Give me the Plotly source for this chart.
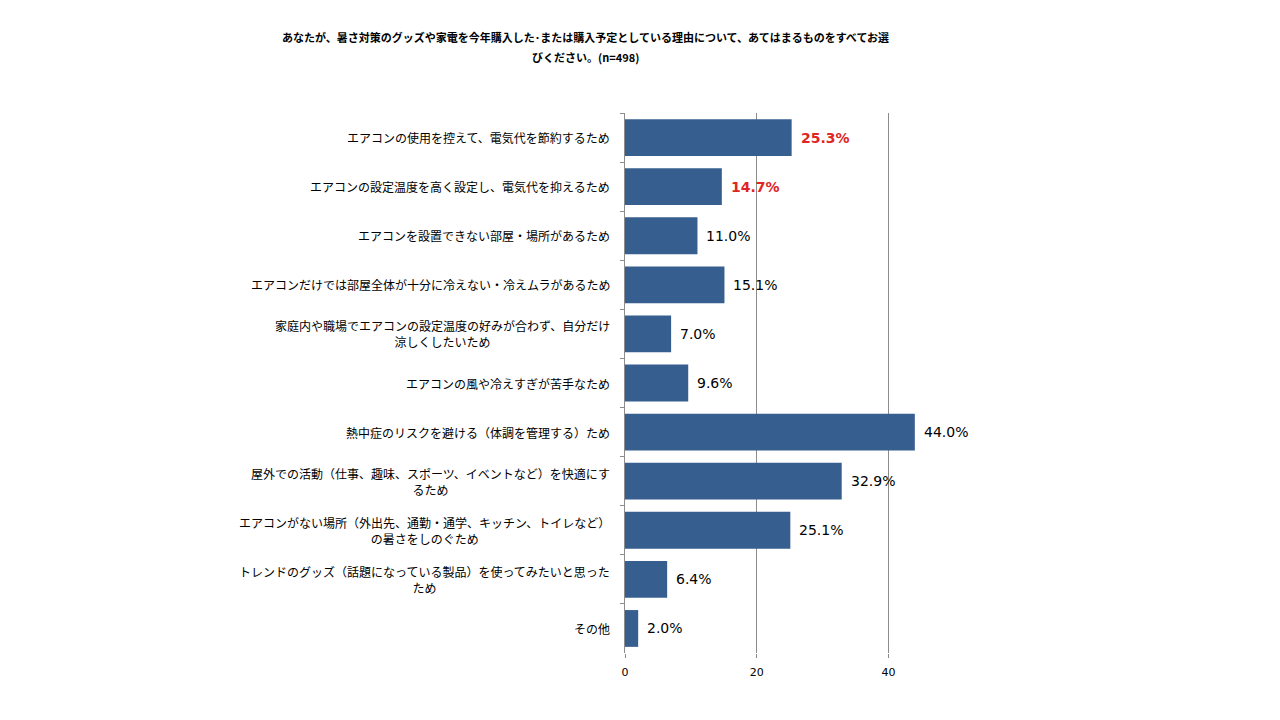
import plotly.graph_objects as go

categories = [
    "エアコンの使用を控えて、電気代を節約するため",
    "エアコンの設定温度を高く設定し、電気代を抑えるため",
    "エアコンを設置できない部屋・場所があるため",
    "エアコンだけでは部屋全体が十分に冷えない・冷えムラがあるため",
    "家庭内や職場でエアコンの設定温度の好みが合わず、自分だけ<br>涼しくしたいため",
    "エアコンの風や冷えすぎが苦手なため",
    "熱中症のリスクを避ける（体調を管理する）ため",
    "屋外での活動（仕事、趣味、スポーツ、イベントなど）を快適にす<br>るため",
    "エアコンがない場所（外出先、通勤・通学、キッチン、トイレなど）<br>の暑さをしのぐため",
    "トレンドのグッズ（話題になっている製品）を使ってみたいと思った<br>ため",
    "その他",
]
values = [25.3, 14.7, 11.0, 15.1, 7.0, 9.6, 44.0, 32.9, 25.1, 6.4, 2.0]
highlight = [True, True, False, False, False, False, False, False, False, False, False]
x_ticks = [0, 20, 40]

title_lines = [
    "あなたが、暑さ対策のグッズや家電を今年購入した･または購入予定としている理由について、あてはまるものをすべてお選",
    "びください。(n=498)",
]

W, H = 1280, 720
ML, MR, MT, MB = 617, 360, 105, 75
PW, PH = W - ML - MR, H - MT - MB

ids = [f"c{i}" for i in range(len(categories))]

fig = go.Figure()
fig.add_trace(go.Bar(
    y=ids, x=values, orientation="h",
    marker=dict(color="#365F8F", line=dict(width=0)),
    hoverinfo="skip",
))

for cid, lab in zip(ids, categories):
    fig.add_annotation(
        x=0, xref="paper", xanchor="right", xshift=-13,
        y=cid, yref="y", yanchor="middle",
        text=lab, showarrow=False, align="center",
        font=dict(family="Noto Sans CJK JP", size=12, color="#000000"),
    )

for cid, v, h in zip(ids, values, highlight):
    fig.add_annotation(
        x=v, xref="x", xanchor="left", xshift=7,
        y=cid, yref="y", yanchor="middle",
        text=(f"<b>{v:.1f}%</b>" if h else f"{v:.1f}%"), showarrow=False,
        font=dict(family="DejaVu Sans", size=14, color=("#e02424" if h else "#000000")),
    )

# title as two lines (wider line spacing than plotly's default)
title_cx, title_cy = 577, [29, 49]
for line, cy in zip(title_lines, title_cy):
    fig.add_annotation(
        x=(title_cx - ML) / PW, xref="paper", xanchor="center",
        y=(H - cy - MB) / PH, yref="paper", yanchor="middle",
        text=f"<b>{line}</b>", showarrow=False,
        font=dict(family="Noto Sans CJK JP", size=11, color="#000000"),
    )

fig.update_layout(
    width=W, height=H,
    margin=dict(l=ML, r=MR, t=MT, b=MB),
    paper_bgcolor="white", plot_bgcolor="white",
    showlegend=False,
    bargap=0.25,
    xaxis=dict(
        range=[0, 46], tickvals=x_ticks, showgrid=True, gridcolor="#8c8c8c", gridwidth=1,
        zeroline=False, showline=False, ticks="outside", ticklen=4, tickcolor="#8c8c8c",
        ticklabelstandoff=5,
        tickfont=dict(family="DejaVu Sans", size=11, color="#000000"),
        fixedrange=True,
    ),
    yaxis=dict(
        autorange="reversed", showticklabels=False, showgrid=False,
        showline=True, linecolor="#8c8c8c", linewidth=1,
        ticks="outside", ticklen=4, tickcolor="#8c8c8c", tickson="boundaries",
        fixedrange=True,
    ),
)

fig.write_html("out.html")
